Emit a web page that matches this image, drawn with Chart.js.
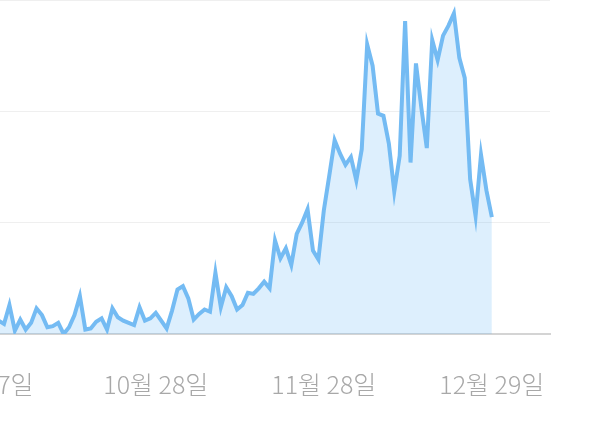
<!DOCTYPE html>
<html lang="ko">
<head>
<meta charset="utf-8">
<title>일별 추이</title>
<script src="https://cdn.jsdelivr.net/npm/chart.js@4.4.1/dist/chart.umd.min.js"></script>
<style>
    html, body {
        margin: 0;
        padding: 0;
        background: #ffffff;
        overflow: hidden;
    }
    .frame {
        position: relative;
        width: 604px;
        height: 442px;
        overflow: hidden;
    }
    .chart-box {
        position: absolute;
        left: -100px;
        top: 0;
        width: 680px;
        height: 442px;
    }
</style>
</head>
<body>
<div class="frame">
    <div class="chart-box">
        <canvas id="trendChart"></canvas>
    </div>
</div>
<script>
// ===== DATA =====
// days counted from 9월 27일 (day 0); first value is 9월 29일
const firstDay = 2;
const tickDays = [0, 31, 62, 93];
const tickLabels = ['9월 27일', '10월 28일', '11월 28일', '12월 29일'];
const dailyValues = [
    12, 9, 26, 3, 13, 4, 10, 23, 17, 6,
    7, 10, 0, 6, 17, 34, 4, 5, 11, 14,
    4, 23, 15, 12, 10, 8, 24, 12, 14, 19,
    12, 5, 21, 40, 43, 32, 13, 18, 22, 20,
    55, 24, 42, 34, 22, 26, 37, 36, 41, 47,
    41, 84, 68, 77, 62, 90, 100, 112, 75, 67,
    111, 142, 174, 162, 152, 159, 138, 166, 260, 241,
    198, 196, 171, 128, 160, 281, 154, 243, 203, 167,
    264, 246, 268, 277, 288, 248, 230, 139, 106, 161,
    129, 105
];

// ===== CHART =====
function buildPoints() {
    return dailyValues.map((v, i) => ({ x: firstDay + i, y: v }));
}

function createTrendChart() {
    const ctx = document.getElementById('trendChart');

    new Chart(ctx, {
        type: 'line',
        data: {
            datasets: [{
                data: buildPoints(),
                borderColor: '#74bbf3',
                backgroundColor: 'rgba(100, 181, 246, 0.22)',
                borderWidth: 4,
                fill: 'origin',
                tension: 0,
                pointRadius: 0,
                pointHoverRadius: 0
            }]
        },
        options: {
            responsive: true,
            maintainAspectRatio: false,
            animation: false,
            layout: {
                padding: { left: 0, right: 30, top: 0, bottom: 16 }
            },
            scales: {
                x: {
                    type: 'linear',
                    min: -16.19,
                    max: 103.73,
                    grid: { display: false },
                    border: { display: true, color: '#d4d4d4', width: 2 },
                    afterBuildTicks: (scale) => {
                        scale.ticks = tickDays.map(d => ({ value: d }));
                    },
                    ticks: {
                        autoSkip: false,
                        maxRotation: 0,
                        padding: 27,
                        color: '#a8a8a8',
                        font: {
                            size: 25,
                            weight: 300,
                            family: "'Noto Sans CJK KR', 'Noto Sans', sans-serif"
                        },
                        callback: (value) => {
                            const idx = tickDays.indexOf(value);
                            return idx >= 0 ? tickLabels[idx] : '';
                        }
                    }
                },
                y: {
                    min: 0,
                    max: 300,
                    grid: {
                        color: '#efefef',
                        lineWidth: 1,
                        drawTicks: false
                    },
                    border: { display: false },
                    ticks: {
                        display: false,
                        stepSize: 100
                    }
                }
            },
            plugins: {
                legend: { display: false },
                tooltip: { enabled: false }
            }
        }
    });
}

// ===== INITIALIZATION =====
document.addEventListener('DOMContentLoaded', () => {
    createTrendChart();
});
</script>
</body>
</html>
